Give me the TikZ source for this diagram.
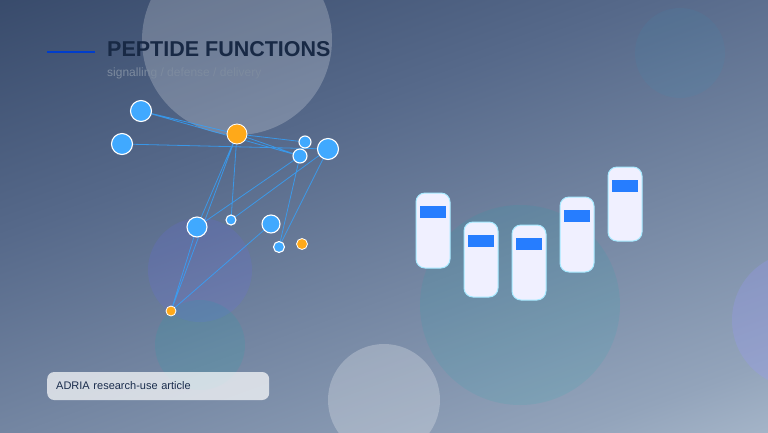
\documentclass[tikz,border=0pt]{standalone}
\usepackage{fontspec}
\setmainfont{Liberation Sans}
\definecolor{bgA}{HTML}{1B2D4D}
\definecolor{bgM}{HTML}{56698A}
\definecolor{bgB}{HTML}{93A4BB}
\definecolor{bgC}{HTML}{DDEAF2}
\pgfdeclarehorizontalshading{bgsh}{100bp}{color(0bp)=(bgA); color(25bp)=(bgA); color(45bp)=(bgM); color(62bp)=(bgB); color(75bp)=(bgC); color(100bp)=(bgC)}
\begin{document}
\begin{tikzpicture}[x=1pt,y=-1pt,
  bn/.style={circle,fill=blue!45!cyan!75!white,draw=white,line width=1.1pt,inner sep=0pt},
  on/.style={circle,fill=orange!75!yellow!90!white,draw=white,line width=0.8pt,inner sep=0pt},
  ed/.style={draw=blue!45!cyan!80!white,line width=0.8pt,opacity=0.8},
  capsule/.style={rounded corners=9pt,fill=blue!6!white,draw=blue!25!cyan!35!white,line width=1pt,minimum width=34pt},
  capbar/.style={fill=blue!60!cyan!85!white,minimum width=26pt,minimum height=12pt,inner sep=0pt}]
\useasboundingbox (0,0) rectangle (768,432);
\shade[shading=bgsh,shading angle=-70] (-300,-300) rectangle (1068,732);
\fill[white,opacity=0.22] (237,40) circle (95);
\fill[cyan!50!teal,opacity=0.1] (680,53) circle (45);
\fill[blue!60!white,opacity=0.15] (200,270) circle (52);
\fill[teal!60!cyan,opacity=0.12] (200,345) circle (45);
\fill[teal!60!cyan,opacity=0.1] (520,305) circle (100);
\fill[white,opacity=0.25] (384,400) circle (56);
\fill[blue!40!white,opacity=0.25] (800,320) circle (68);
% title
\draw[blue!70!cyan!80!black,line width=1.8pt] (47,52) -- (95,52);
\node[anchor=west,font=\bfseries\fontsize{21.5}{24}\selectfont,text=bgA!90!black,inner sep=0] (title) at (107,49) {PEPTIDE FUNCTIONS};
\node[anchor=west,font=\fontsize{12}{14}\selectfont,text=bgB!85!black,inner sep=0] (sub) at (107,73) {signalling / defense / delivery};
% network coordinates
\coordinate (A) at (141,111);
\coordinate (B) at (122,144);
\coordinate (O1) at (237,134);
\coordinate (C) at (305,142);
\coordinate (D) at (300,156);
\coordinate (E) at (328,149);
\coordinate (F) at (197,227);
\coordinate (G) at (231,220);
\coordinate (H) at (271,224);
\coordinate (I) at (279,247);
\coordinate (O2) at (302,244);
\coordinate (O3) at (171,311);
\path[ed] (A) -- (O1) (A) -- (D) (B) -- (E) (O1) -- (C) (O1) -- (D) (O1) -- (F)
 (O1) -- (O3) (O1) -- (G) (F) -- (D) (G) -- (E) (D) -- (I) (E) -- (I)
 (F) -- (O3) (H) -- (O3);
\node[bn,minimum size=21pt] (nA) at (A) {};
\node[bn,minimum size=21pt] (nB) at (B) {};
\node[on,minimum size=20pt] (nO1) at (O1) {};
\node[bn,minimum size=12pt] (nC) at (C) {};
\node[bn,minimum size=14pt] (nD) at (D) {};
\node[bn,minimum size=21pt] (nE) at (E) {};
\node[bn,minimum size=20pt] (nF) at (F) {};
\node[bn,minimum size=10pt] (nG) at (G) {};
\node[bn,minimum size=18pt] (nH) at (H) {};
\node[bn,minimum size=11pt] (nI) at (I) {};
\node[on,minimum size=11pt] (nO2) at (O2) {};
\node[on,minimum size=10pt] (nO3) at (O3) {};
% capsules
\foreach \nm/\x/\t/\b in {k1/433/193/268,k2/481/222/297,k3/529/225/300,k4/577/197/272,k5/625/167/241}{
  \node[capsule,minimum height={\b-\t}] (\nm) at (\x,{(\t+\b)/2}) {};
  \node[capbar] (\nm b) at (\x,\t+19) {};
}
% label
\node[rounded corners=7pt,fill=white,fill opacity=0.7,text opacity=1,minimum height=28pt,anchor=west,
  text=bgA,font=\fontsize{11}{13}\selectfont,inner xsep=9pt,text width=204pt] (lab) at (47,386) {ADRIA research-use article};
\end{tikzpicture}
\end{document}
